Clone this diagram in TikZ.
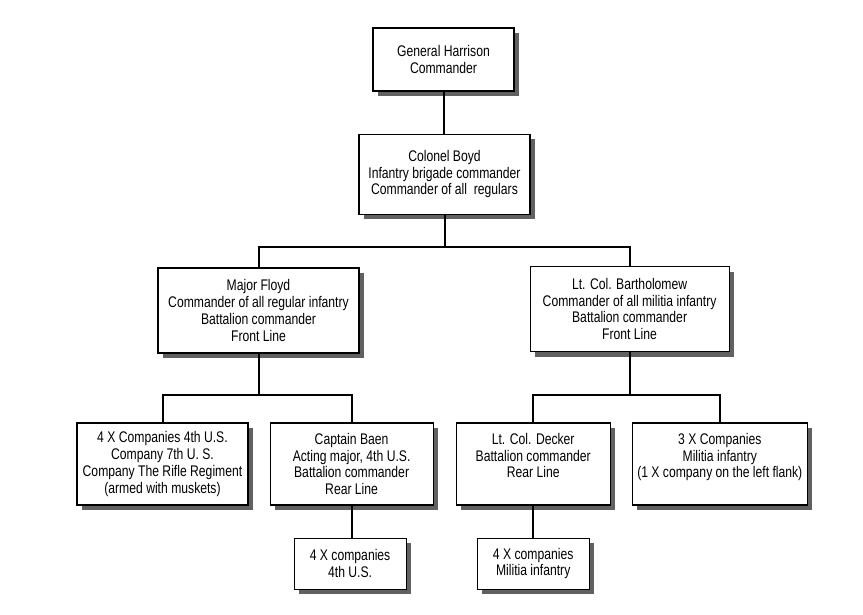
\documentclass[tikz,border=0pt]{standalone}
\usepackage{fontspec}
\setmainfont{Liberation Sans}[FakeStretch=0.79]
\usepackage{tikz}
\usetikzlibrary{positioning,shadows}

\tikzset{
  unit/.style={draw, line width=1.1pt, fill=white, align=center, inner sep=2pt,
    font=\fontsize{15.4}{16.7}\selectfont,
    drop shadow={shadow xshift=5pt, shadow yshift=-5pt, fill=black!62, opacity=1}},
  link/.style={line width=2pt}
}

\begin{document}
\begin{tikzpicture}[x=1pt,y=-1pt]
  \useasboundingbox (0,0) rectangle (863,615);

  \node (harrison) [unit, minimum width=141pt, minimum height=63pt] at (443.5,59.5)
    {General Harrison\\Commander};
  \node (boyd) [unit, minimum width=171pt, minimum height=80pt, below=42pt of harrison.south, anchor=north, xshift=1pt]
    {Colonel Boyd\\Infantry brigade commander\\Commander of all\ \ regulars};
  \node (floyd) [unit, minimum width=201pt, minimum height=85pt] at (258.5,310.5)
    {Major Floyd\\Commander of all regular infantry\\Battalion commander\\Front Line};
  \node (bartholomew) [unit, minimum width=199pt, minimum height=85pt, right=170pt of floyd.east, anchor=west, yshift=1.5pt]
    {Lt. Col. Bartholomew\\Commander of all militia infantry\\Battalion commander\\Front Line};

  \node (regulars) [unit, minimum width=171pt, minimum height=82pt] at (162.5,464)
    {4 X Companies 4th U.S.\\Company 7th U. S.\\Company The Rifle Regiment\\(armed with muskets)};
  \node (baen) [unit, minimum width=163pt, minimum height=82pt, right=21pt of regulars]
    {Captain Baen\\Acting major, 4th U.S.\\Battalion commander\\Rear Line};
  \node (decker) [unit, minimum width=154pt, minimum height=82pt, right=22pt of baen]
    {Lt. Col. Decker\\Battalion commander\\Rear Line\\\mbox{}};
  \node (militia) [unit, minimum width=175pt, minimum height=82pt, right=21pt of decker]
    {3 X Companies\\Militia infantry\\(1 X company on the left flank)\\\mbox{}};

  \node (baencoys) [unit, minimum width=112pt, minimum height=51pt, below=32pt of baen, xshift=-1.5pt]
    {4 X companies\\4th U.S.};
  \node (deckercoys) [unit, minimum width=112pt, minimum height=51pt, below=32pt of decker]
    {4 X companies\\Militia infantry};

  % bars
  \coordinate (bar1) at (0,247);
  \coordinate (bar2) at (0,395);

  \draw[link] (harrison) -- (harrison |- boyd.north);
  \draw[link] (boyd.south) -- (boyd.south |- bar1);
  \draw[link] (floyd.north) -- (floyd.north |- bar1) -- (bartholomew.north |- bar1) -- (bartholomew.north);

  \draw[link] (floyd.south) -- (floyd.south |- bar2);
  \draw[link] (regulars.north) -- (regulars.north |- bar2) -- (baen.north |- bar2) -- (baen.north);
  \draw[link] (bartholomew.south) -- (bartholomew.south |- bar2);
  \draw[link] (decker.north) -- (decker.north |- bar2) -- (militia.north |- bar2) -- (militia.north);

  \draw[link] (baen.south) -- (baen.south |- baencoys.north);
  \draw[link] (decker.south) -- (deckercoys.north);
\end{tikzpicture}
\end{document}
